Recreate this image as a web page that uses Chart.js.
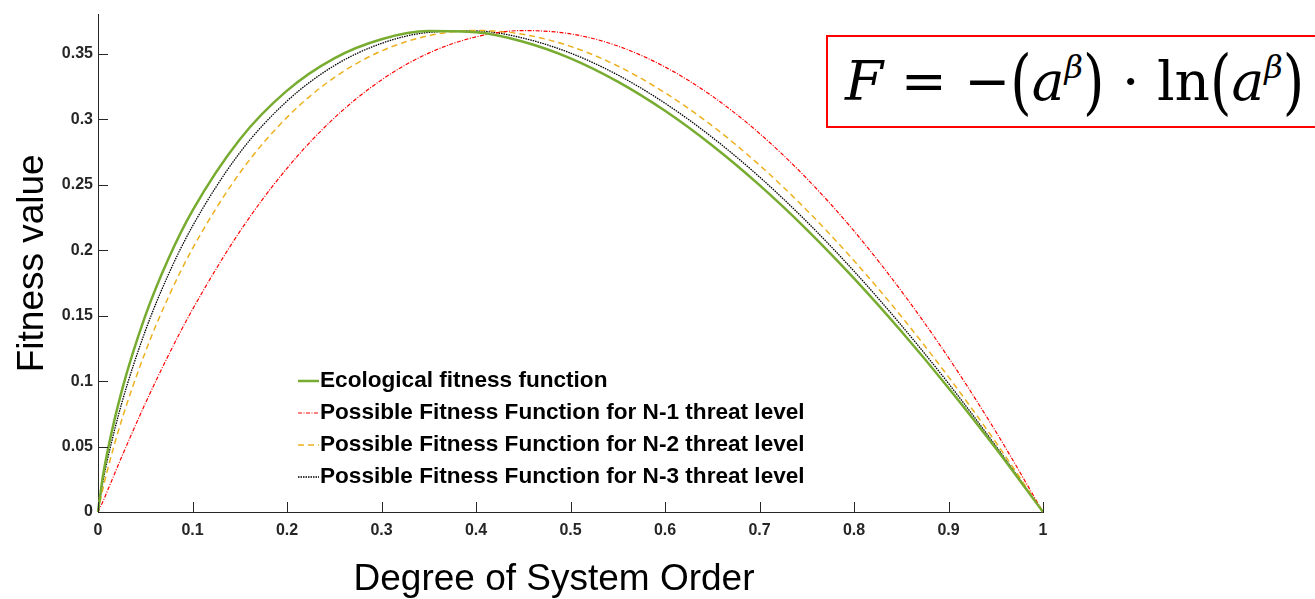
<!DOCTYPE html>
<html lang="en">
<head>
<meta charset="UTF-8">
<title>Fitness value vs Degree of System Order</title>
<script src="https://cdn.jsdelivr.net/npm/chart.js"></script>
<style>
  * { box-sizing: border-box; margin: 0; padding: 0; }
  html, body { width: 1315px; height: 599px; overflow: hidden; background: #fff; }
  #wrap { position: relative; width: 1315px; height: 599px; }
  #chart { position: absolute; left: 0; top: 0; }
  .formula {
    position: absolute; left: 826px; top: 35px; width: 540px; height: 93px; overflow: hidden;
    border: 2px solid #f00; background: #fff;
    font-family: 'DejaVu Serif', 'Liberation Serif', serif; font-size: 55px; color: #000;
    white-space: nowrap; line-height: 89px; padding-left: 17px;
  }
  .formula i { font-style: italic; }
  .formula sup { font-size: 32px; font-style: italic; vertical-align: 22px; line-height: 0; }
  .formula .p { display: inline-block; transform: scaleY(1.3); }
</style>
</head>
<body>
<div id="wrap">
  <canvas id="chart" width="1315" height="599"></canvas>
  <div class="formula"><i>F</i> = −<span class="p">(</span><i>a</i><sup>β</sup><span class="p">)</span> · ln<span class="p">(</span><i>a</i><sup>β</sup><span class="p">)</span></div>
</div>
<script>
  // sample points along the degree of system order
  const xValues = [0, 0.005, 0.01, 0.025, 0.05, 0.075, 0.1, 0.15, 0.2, 0.25, 0.3, 0.35, 0.4, 0.45,
                   0.5, 0.55, 0.6, 0.65, 0.7, 0.75, 0.8, 0.85, 0.9, 0.95, 1];
  const ecological = [0, 0.0265, 0.0461, 0.0922, 0.1498, 0.1943, 0.2303, 0.2846, 0.3219, 0.3466, 0.3612, 0.3674, 0.3665, 0.3593,
                      0.3466, 0.3288, 0.3065, 0.2800, 0.2497, 0.2158, 0.1785, 0.1381, 0.0948, 0.0487, 0];
  const threatN1 = [0, 0.0077, 0.0162, 0.0420, 0.0828, 0.1204, 0.1547, 0.2142, 0.2626, 0.3010, 0.3301, 0.3506, 0.3630, 0.3678,
                    0.3653, 0.3560, 0.3400, 0.3177, 0.2892, 0.2548, 0.2147, 0.1689, 0.1179, 0.0615, 0];
  const threatN2 = [0, 0.0172, 0.0320, 0.0701, 0.1221, 0.1650, 0.2012, 0.2590, 0.3015, 0.3319, 0.3522, 0.3639, 0.3679, 0.3649,
                    0.3557, 0.3407, 0.3203, 0.2950, 0.2650, 0.2306, 0.1920, 0.1495, 0.1032, 0.0533, 0];
  const threatN3 = [0, 0.0223, 0.0399, 0.0828, 0.1382, 0.1822, 0.2184, 0.2744, 0.3139, 0.3410, 0.3580, 0.3664, 0.3675, 0.3620,
                    0.3506, 0.3339, 0.3123, 0.2862, 0.2560, 0.2218, 0.1840, 0.1427, 0.0982, 0.0505, 0];

  const xTicks = [0, 0.1, 0.2, 0.3, 0.4, 0.5, 0.6, 0.7, 0.8, 0.9, 1];
  const yTicks = [0, 0.05, 0.1, 0.15, 0.2, 0.25, 0.3, 0.35];

  const seriesNames = [
    'Ecological fitness function',
    'Possible Fitness Function for N-1 threat level',
    'Possible Fitness Function for N-2 threat level',
    'Possible Fitness Function for N-3 threat level'
  ];

  const pts = ys => xValues.map((x, i) => ({ x, y: ys[i] }));
  const axisColor = '#262626';

  // inward tick marks, legend inside the plot, axis titles
  const decor = {
    id: 'decor',
    afterDraw(chart) {
      const { ctx, chartArea: a, scales: { x, y } } = chart;
      ctx.save();
      ctx.strokeStyle = axisColor;
      ctx.lineWidth = 1;
      ctx.setLineDash([]);
      ctx.beginPath();
      x.ticks.forEach(t => {
        const px = Math.round(x.getPixelForValue(t.value)) + 0.5;
        ctx.moveTo(px, a.bottom); ctx.lineTo(px, a.bottom - 10);
      });
      y.ticks.forEach(t => {
        const py = Math.round(y.getPixelForValue(t.value)) + 0.5;
        ctx.moveTo(a.left, py); ctx.lineTo(a.left + 10, py);
      });
      ctx.stroke();

      // legend
      ctx.font = 'bold 22.6px "Liberation Sans", Arial, sans-serif';
      ctx.textBaseline = 'middle';
      ctx.textAlign = 'left';
      chart.data.datasets.forEach((ds, i) => {
        const ly = 381 + i * 32;
        ctx.strokeStyle = ds.borderColor;
        ctx.lineWidth = ds.borderWidth;
        ctx.setLineDash(ds.borderDash || []);
        ctx.beginPath();
        ctx.moveTo(298, ly); ctx.lineTo(319, ly);
        ctx.stroke();
        ctx.fillStyle = '#000';
        ctx.fillText(ds.label, 320, ly);
      });

      // axis titles
      ctx.font = '37px "Liberation Sans", Arial, sans-serif';
      ctx.fillStyle = '#000';
      ctx.textAlign = 'center';
      ctx.fillText('Degree of System Order', 554, 580);
      ctx.translate(33, (a.top + a.bottom) / 2);
      ctx.rotate(-Math.PI / 2);
      ctx.fillText('Fitness value', 0, 0);
      ctx.restore();
    }
  };

  const tickFont = { family: '"Liberation Sans", Arial, sans-serif', size: 16, weight: 'bold' };

  new Chart(document.getElementById('chart'), {
    type: 'line',
    data: {
      datasets: [
        { label: seriesNames[0], data: pts(ecological), borderColor: '#77AC30', borderWidth: 2.5 },
        { label: seriesNames[1], data: pts(threatN1), borderColor: '#FF0000', borderWidth: 1.2, borderDash: [4, 1.5, 1, 1.5] },
        { label: seriesNames[2], data: pts(threatN2), borderColor: '#EDB120', borderWidth: 1.5, borderDash: [6, 4] },
        { label: seriesNames[3], data: pts(threatN3), borderColor: '#000000', borderWidth: 1.3, borderDash: [1.5, 1] }
      ]
    },
    options: {
      responsive: false,
      animation: false,
      devicePixelRatio: 1,
      layout: { padding: { left: 0, top: 12, right: 272, bottom: 0 } },
      elements: {
        point: { radius: 0 },
        line: { cubicInterpolationMode: 'monotone', fill: false }
      },
      datasets: { line: { clip: false } },
      plugins: { legend: { display: false }, tooltip: { enabled: false } },
      scales: {
        x: {
          type: 'linear', min: 0, max: 1,
          afterBuildTicks: s => { s.ticks = xTicks.map(v => ({ value: v })); },
          afterFit: s => { s.height = 87; },
          grid: { display: false, drawTicks: false },
          border: { display: true, color: axisColor, width: 1 },
          ticks: { font: tickFont, color: axisColor, padding: 9, maxRotation: 0, callback: v => String(v) }
        },
        y: {
          type: 'linear', min: 0, max: 0.38,
          afterBuildTicks: s => { s.ticks = yTicks.map(v => ({ value: v })); },
          afterFit: s => { s.width = 98; },
          grid: { display: false, drawTicks: false },
          border: { display: true, color: axisColor, width: 1 },
          ticks: { font: tickFont, color: axisColor, padding: 5, callback: v => String(v) }
        }
      }
    },
    plugins: [decor]
  });
</script>
</body>
</html>
